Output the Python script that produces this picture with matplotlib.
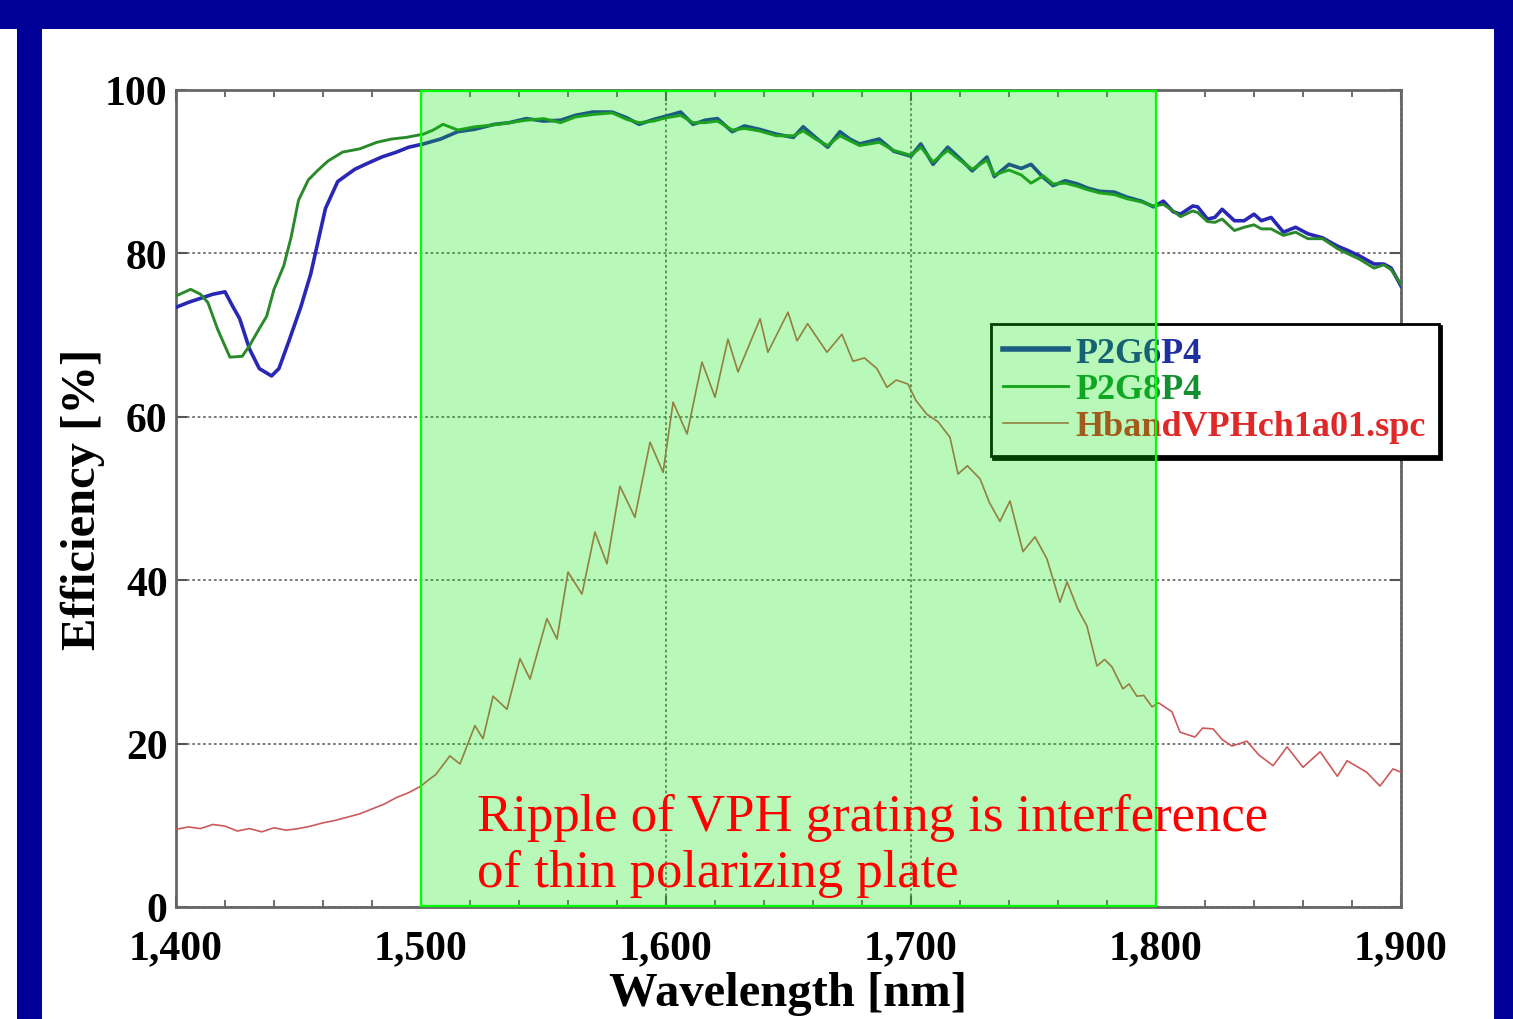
import matplotlib
matplotlib.use("Agg")
import matplotlib.pyplot as plt
from matplotlib.patches import Rectangle

# --- data ---
wl_blue = [1400, 1405, 1409, 1415, 1420, 1423, 1426, 1430, 1434, 1439, 1442, 1446, 1451, 1455,
           1458, 1461, 1466, 1473, 1478, 1484, 1490, 1495, 1501, 1508, 1515, 1522, 1530, 1536,
           1543, 1550, 1557, 1563, 1570, 1578, 1584, 1589, 1595, 1600, 1606, 1611, 1616, 1621,
           1627, 1632, 1638, 1645, 1652, 1656, 1661, 1666, 1671, 1675, 1679, 1687, 1693, 1700,
           1704, 1709, 1715, 1720, 1725, 1731, 1734, 1740, 1745, 1749, 1754, 1758, 1763, 1768,
           1772, 1777, 1783, 1788, 1794, 1799, 1803, 1807, 1810, 1815, 1817, 1821, 1824, 1827,
           1832, 1836, 1840, 1843, 1847, 1852, 1857, 1862, 1868, 1874, 1878, 1883, 1889, 1893,
           1896, 1900]
eff_blue = [73.4, 74.0, 74.4, 75.0, 75.3, 73.6, 72.0, 68.3, 65.9, 65.0, 65.9, 69.2, 73.5, 77.5,
            81.5, 85.5, 88.8, 90.3, 91.0, 91.8, 92.4, 93.0, 93.4, 94.0, 94.9, 95.2, 95.8, 96.0,
            96.5, 96.2, 96.3, 96.9, 97.3, 97.3, 96.6, 95.8, 96.4, 96.8, 97.3, 95.8, 96.3, 96.5,
            94.9, 95.6, 95.2, 94.6, 94.2, 95.5, 94.2, 93.0, 94.9, 94.0, 93.4, 94.0, 92.5, 91.9,
            93.4, 90.9, 93.0, 91.6, 90.1, 91.8, 89.4, 90.9, 90.4, 90.9, 89.3, 88.3, 88.9, 88.5,
            88.0, 87.6, 87.5, 86.9, 86.4, 85.7, 86.4, 85.1, 84.8, 85.8, 85.7, 84.2, 84.4, 85.4,
            84.0, 84.0, 84.8, 84.0, 84.4, 82.6, 83.2, 82.4, 81.9, 80.9, 80.4, 79.7, 78.7, 78.7,
            78.2, 76.0]

wl_green = [1400, 1406, 1410, 1413, 1417, 1422, 1427, 1430, 1434, 1437, 1440, 1444, 1447, 1450,
            1454, 1458, 1462, 1468, 1475, 1482, 1488, 1494, 1501, 1505, 1509, 1515, 1522, 1529,
            1536, 1543, 1550, 1557, 1563, 1570, 1578, 1584, 1589, 1595, 1600, 1606, 1611, 1616,
            1621, 1627, 1632, 1638, 1645, 1652, 1656, 1661, 1666, 1671, 1675, 1679, 1687, 1693,
            1700, 1704, 1709, 1715, 1720, 1725, 1731, 1734, 1740, 1745, 1749, 1754, 1758, 1763,
            1768, 1772, 1777, 1783, 1788, 1794, 1799, 1803, 1807, 1810, 1815, 1817, 1821, 1824,
            1827, 1832, 1836, 1840, 1843, 1847, 1852, 1857, 1862, 1868, 1874, 1878, 1883, 1889,
            1893, 1896, 1900]
eff_green = [74.8, 75.6, 75.0, 74.0, 70.7, 67.3, 67.4, 68.7, 70.8, 72.3, 75.6, 78.5, 82.0, 86.5,
             89.0, 90.2, 91.3, 92.4, 92.8, 93.6, 94.0, 94.2, 94.6, 95.1, 95.8, 95.1, 95.5, 95.7,
             96.0, 96.3, 96.5, 96.0, 96.7, 97.0, 97.2, 96.4, 96.0, 96.2, 96.6, 96.9, 96.0, 96.0,
             96.2, 95.1, 95.3, 95.0, 94.4, 94.4, 95.0, 94.0, 93.2, 94.4, 93.8, 93.2, 93.6, 92.6,
             92.0, 93.0, 91.2, 92.6, 91.4, 90.3, 91.4, 89.6, 90.2, 89.6, 88.6, 89.5, 88.5, 88.6,
             88.2, 87.8, 87.4, 87.2, 86.7, 86.3, 85.8, 86.0, 85.2, 84.5, 85.2, 85.0, 83.9, 83.8,
             84.2, 82.8, 83.2, 83.5, 83.0, 83.0, 82.2, 82.6, 81.8, 81.8, 80.6, 80.0, 79.3, 78.2,
             78.6, 78.0, 76.2]

wl_red = [1400, 1405, 1410, 1415, 1420, 1425, 1430, 1435, 1440, 1445, 1450, 1455, 1460, 1465,
          1470, 1475, 1480, 1485, 1490, 1495, 1500, 1502.4, 1506, 1511.8, 1515.9, 1522, 1525.3,
          1529.4, 1535.1, 1540.4, 1544.5, 1551.4, 1555.5, 1560, 1565.7, 1571, 1575.9, 1581.2,
          1587.3, 1593.5, 1598.8, 1602.9, 1608.6, 1614.7, 1620, 1625.3, 1629.4, 1638.4, 1641.6,
          1649.8, 1653.5, 1657.8, 1665.7, 1671.8, 1676.3, 1681, 1686.1, 1690.2, 1694, 1698.8,
          1702, 1706.5, 1711, 1715.9, 1719.2, 1723, 1728.2, 1732, 1736.3, 1740.4, 1745.7, 1750.6,
          1755.5, 1760.8, 1763.7, 1768, 1771.8, 1775.9, 1779, 1782, 1786.5, 1789, 1792.2, 1795,
          1798.4, 1801, 1806.5, 1809.8, 1815.9, 1819, 1823.3, 1827, 1831, 1837.1, 1842, 1847.8,
          1853.5, 1860, 1867, 1874, 1878, 1886, 1891.4, 1896.7, 1900]
eff_red = [9.5, 9.8, 9.6, 10.1, 9.9, 9.3, 9.6, 9.2, 9.7, 9.4, 9.6, 9.9, 10.3, 10.6,
           11.0, 11.4, 12.0, 12.6, 13.4, 14.0, 14.8, 15.4, 16.2, 18.5, 17.5, 22.2, 20.6,
           25.8, 24.2, 30.4, 27.9, 35.3, 32.8, 41.0, 38.3, 45.9, 42.0, 51.5,
           47.7, 56.9, 53.2, 61.8, 57.9, 66.7, 62.4, 69.5, 65.5, 72.0, 67.9,
           72.8, 69.3, 71.4, 67.9, 70.1, 66.8, 67.2, 65.9, 63.6, 64.5, 64.0,
           62.0, 60.3, 59.4, 57.5, 53.0, 54.0, 52.4, 49.5, 47.2, 49.7, 43.5, 45.3,
           42.6, 37.3, 39.8, 36.5, 34.4, 29.5, 30.3, 29.4, 26.7, 27.3, 25.8, 25.9,
           24.5, 25.0, 23.9, 21.4, 20.8, 21.9, 21.8, 20.5, 19.7, 20.3, 18.6, 17.3,
           19.6, 17.1, 19.0, 16.0, 17.9, 16.5, 14.8, 16.9, 16.5]

series_labels = ["P2G6P4", "P2G8P4", "HbandVPHch1a01.spc"]
xticks = [1400, 1500, 1600, 1700, 1800, 1900]
xtick_labels = ["1,400", "1,500", "1,600", "1,700", "1,800", "1,900"]
yticks = [0, 20, 40, 60, 80, 100]
band = (1500, 1800)  # highlighted range
note = "Ripple of VPH grating is interference\nof thin polarizing plate"

serif = "Liberation Serif"

fig = plt.figure(figsize=(15.13, 10.20), dpi=100)
fig.patch.set_facecolor("#000096")
# white slide panel and left strip
fig.add_artist(Rectangle((42 / 1513, 0), (1494 - 42) / 1513, 990 / 1020,
                         transform=fig.transFigure, fc="white", ec="none", zorder=0))
fig.add_artist(Rectangle((0, 0), 17 / 1513, 990 / 1020,
                         transform=fig.transFigure, fc="white", ec="none", zorder=0))

ax = fig.add_axes([176 / 1513, 112 / 1020, 1225 / 1513, 817 / 1020])
ax.set_facecolor("white")

l1, = ax.plot(wl_blue, eff_blue, color="#2828b4", lw=2.6, zorder=3)
l2, = ax.plot(wl_green, eff_green, color="#2a8a2a", lw=2.1, zorder=3)
l3, = ax.plot(wl_red, eff_red, color="#cc5a5a", lw=1.2, zorder=3)

ax.set_xlim(1400, 1900)
ax.set_ylim(0, 100)
ax.set_xticks(xticks)
ax.set_xticklabels(xtick_labels)
ax.set_yticks(yticks)
ax.set_xticks(range(1400, 1901, 20), minor=True)

ax.grid(True, which="major", linestyle=(0, (1.5, 1.5)), color="#707070", lw=1.3)
ax.tick_params(which="both", direction="in", top=True, right=True, color="#555555")
ax.tick_params(which="major", length=8, width=1.5, pad=6)
ax.tick_params(axis="x", which="major", pad=16)
ax.tick_params(which="minor", length=5, width=1.2)
for lab in ax.get_xticklabels() + ax.get_yticklabels():
    lab.set_fontfamily(serif)
    lab.set_fontweight("bold")
    lab.set_fontsize(30)
for sp in ax.spines.values():
    sp.set_color("#666666")
    sp.set_linewidth(2)

ax.set_xlabel("Wavelength [nm]", fontfamily=serif, fontweight="bold", fontsize=35, labelpad=3)
ax.set_ylabel("Efficiency [%]", fontfamily=serif, fontweight="bold", fontsize=35)
ax.yaxis.set_label_coords(-0.058, 0.5)

leg = ax.legend([l1, l2, l3], series_labels, loc="upper left", bbox_to_anchor=(0.665, 0.714),
                borderaxespad=0, prop={"family": serif, "weight": "bold", "size": 26},
                labelcolor=["#1f2fa0", "#139030", "#e02828"], handlelength=1.8,
                handletextpad=0.2, labelspacing=0.1, borderpad=0.35, fancybox=False,
                framealpha=1, edgecolor="black", shadow={"color": "black", "alpha": 1})
leg.get_frame().set_linewidth(2)
leg.get_lines()[0].set_linewidth(4)
leg.set_zorder(5)

# translucent highlight drawn over lines and legend
ax.add_patch(Rectangle((band[0], 0.15), band[1] - band[0], 99.7, fc=(0.0, 0.9, 0.0, 0.28),
                       ec="#00ff00", lw=1.6, zorder=6, clip_on=False))

ax.text(1523, 1.2, note, color="red", fontfamily=serif, fontsize=38, va="bottom", ha="left",
        linespacing=1.22, zorder=7)

fig.savefig("out.png", dpi=100, facecolor=fig.get_facecolor())
